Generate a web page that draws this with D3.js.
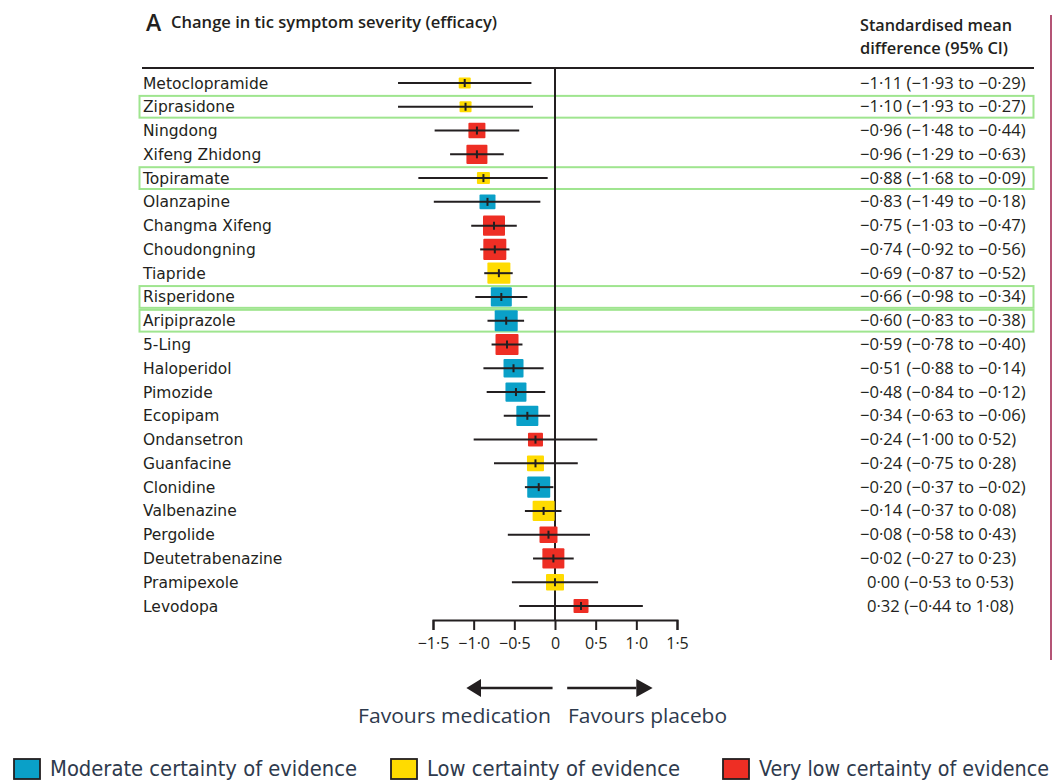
<!DOCTYPE html>
<html><head><meta charset="utf-8">
<script src="https://cdn.jsdelivr.net/npm/d3@7"></script>
<style>
body{margin:0;background:#fff;}
svg{display:block;}
</style></head>
<body>
<svg id="chart" width="1056" height="782"></svg>
<script>
// ---- data ----
const drugs = ["Metoclopramide","Ziprasidone","Ningdong","Xifeng Zhidong","Topiramate","Olanzapine","Changma Xifeng","Choudongning","Tiapride","Risperidone","Aripiprazole","5-Ling","Haloperidol","Pimozide","Ecopipam","Ondansetron","Guanfacine","Clonidine","Valbenazine","Pergolide","Deutetrabenazine","Pramipexole","Levodopa"];
const smd   = [-1.11,-1.10,-0.96,-0.96,-0.88,-0.83,-0.75,-0.74,-0.69,-0.66,-0.60,-0.59,-0.51,-0.48,-0.34,-0.24,-0.24,-0.20,-0.14,-0.08,-0.02,0.00,0.32];
const ciLow = [-1.93,-1.93,-1.48,-1.29,-1.68,-1.49,-1.03,-0.92,-0.87,-0.98,-0.83,-0.78,-0.88,-0.84,-0.63,-1.00,-0.75,-0.37,-0.37,-0.58,-0.27,-0.53,-0.44];
const ciHigh= [-0.29,-0.27,-0.44,-0.63,-0.09,-0.18,-0.47,-0.56,-0.52,-0.34,-0.38,-0.40,-0.14,-0.12,-0.06,0.52,0.28,-0.02,0.08,0.43,0.23,0.53,1.08];
const certainty = ["Low","Low","Very low","Very low","Low","Moderate","Very low","Very low","Low","Moderate","Moderate","Very low","Moderate","Moderate","Moderate","Very low","Low","Moderate","Low","Very low","Very low","Low","Very low"];
const markerSize = [12,12,17,21,13,16,22,23,23,21,23,23,20,21,22,15,17,23,22,18,22,18,15];
const highlighted = ["Ziprasidone","Topiramate","Risperidone","Aripiprazole"];
const ticks = [-1.5,-1.0,-0.5,0,0.5,1.0,1.5];
const certaintyLevels = ["Moderate","Low","Very low"];
const legendLabels = ["Moderate certainty of evidence","Low certainty of evidence","Very low certainty of evidence"];
const certaintyColors = ["#0aa0c8","#ffdb00","#ee2e24"];

// ---- helpers ----
const fmt = v => {
  const s = Math.abs(v).toFixed(2).replace(".", "\u00B7");
  return (v < 0 ? "\u2212" : "") + s;
};
const fmtTick = v => v === 0 ? "0" : fmt(v).replace(/(\u00B7\d)0$/, "$1");

const rows = drugs.map((d,i)=>({name:d, est:smd[i], lo:ciLow[i], hi:ciHigh[i], cert:certainty[i], size:markerSize[i]}));

const svg = d3.select("#chart");
const x = d3.scaleLinear().domain([-1.5,1.5]).range([433,677]);
const y = d3.scalePoint().domain(drugs).range([83,606]);
const color = d3.scaleOrdinal().domain(certaintyLevels).range(certaintyColors);

const textCol = "#231f20";
const labelFont = "'DejaVu Sans', 'Open Sans', sans-serif";
const numFont = "'Open Sans', sans-serif";

// title
svg.append("text").attr("x",146).attr("y",31).attr("font-family","'Open Sans', sans-serif")
  .attr("font-size",23).attr("font-weight",600).attr("fill",textCol).text("A");
svg.append("text").attr("x",171).attr("y",28).attr("font-family","'Open Sans', sans-serif")
  .attr("font-size",15.5).attr("font-weight",600).attr("fill",textCol)
  .attr("textLength",326).attr("lengthAdjust","spacingAndGlyphs")
  .text("Change in tic symptom severity (efficacy)");
// right header
svg.append("text").attr("x",860).attr("y",31).attr("font-family","'Open Sans', sans-serif")
  .attr("font-size",16).attr("font-weight",600).attr("fill",textCol)
  .attr("textLength",152).attr("lengthAdjust","spacingAndGlyphs").text("Standardised mean");
svg.append("text").attr("x",860).attr("y",54).attr("font-family","'Open Sans', sans-serif")
  .attr("font-size",16).attr("font-weight",600).attr("fill",textCol)
  .attr("textLength",148).attr("lengthAdjust","spacingAndGlyphs").text("difference (95% CI)");

// header rule
svg.append("line").attr("x1",142).attr("x2",1034).attr("y1",68).attr("y2",68)
  .attr("stroke","#231f20").attr("stroke-width",2);

// right maroon rule
svg.append("line").attr("x1",1051).attr("x2",1051).attr("y1",15).attr("y2",660)
  .attr("stroke","#9b1b48").attr("stroke-width",1.5);

// highlight boxes
const step = y.step();
svg.selectAll("rect.hl").data(highlighted).join("rect").attr("class","hl")
  .attr("x",139.5).attr("width",894)
  .attr("y",d=>y(d)-step/2+1).attr("height",step-2)
  .attr("fill","none").attr("stroke","#9fe58f").attr("stroke-width",2);

// zero line
svg.append("line").attr("x1",x(0)).attr("x2",x(0)).attr("y1",68).attr("y2",620)
  .attr("stroke","#231f20").attr("stroke-width",2);

// axis
const axis = d3.axisBottom(x).tickValues(ticks).tickSize(10).tickFormat(fmtTick);
const gAx = svg.append("g").attr("transform","translate(0,620)").call(axis);
gAx.select(".domain").attr("stroke","#231f20").attr("stroke-width",2);
gAx.selectAll(".tick line").attr("stroke","#231f20").attr("stroke-width",2);
gAx.selectAll(".tick text").attr("font-family",numFont).attr("font-size",16).attr("fill",textCol).attr("dy","1.0em");

// rows
const g = svg.append("g");
rows.forEach(r=>{
  const cy = y(r.name);
  g.append("text").attr("x",143).attr("y",cy+5.5).attr("font-family",labelFont)
    .attr("font-size",15.5).attr("fill",textCol).text(r.name);
  g.append("rect").attr("x",x(r.est)-r.size/2).attr("y",cy-r.size*0.46)
    .attr("width",r.size).attr("height",r.size*0.92)
    .attr("fill",color(r.cert)).attr("rx",1);
  g.append("line").attr("x1",x(r.lo)).attr("x2",x(r.hi)).attr("y1",cy).attr("y2",cy)
    .attr("stroke","#231f20").attr("stroke-width",2);
  g.append("line").attr("x1",x(r.est)).attr("x2",x(r.est)).attr("y1",cy-4).attr("y2",cy+4)
    .attr("stroke","#231f20").attr("stroke-width",2);
  g.append("text").attr("x",860 + (r.est < 0 ? 0 : 7)).attr("y",cy+5.5).attr("font-family",numFont)
    .attr("font-size",16.6).attr("fill",textCol)
    .text(`${fmt(r.est)} (${fmt(r.lo)} to ${fmt(r.hi)})`);
});

// arrows
const arrowCol = "#231f20";
const ay = 688;
svg.append("line").attr("x1",x(-0.03)).attr("x2",x(-0.95)).attr("y1",ay).attr("y2",ay).attr("stroke",arrowCol).attr("stroke-width",2.5);
svg.append("path").attr("d",`M${x(-1.09)},${ay} L${x(-0.91)},${ay-9} L${x(-0.91)},${ay+9} Z`).attr("fill",arrowCol);
svg.append("line").attr("x1",x(0.15)).attr("x2",x(1.0)).attr("y1",ay).attr("y2",ay).attr("stroke",arrowCol).attr("stroke-width",2.5);
svg.append("path").attr("d",`M${x(1.2)},${ay} L${x(1.0)},${ay-9} L${x(1.0)},${ay+9} Z`).attr("fill",arrowCol);

const blueText = "#2e3a4d";
svg.append("text").attr("x",551).attr("y",723).attr("text-anchor","end")
  .attr("font-family","'Open Sans', sans-serif").attr("font-size",19.5).attr("fill",blueText)
  .attr("textLength",193).attr("lengthAdjust","spacingAndGlyphs").text("Favours medication");
svg.append("text").attr("x",568).attr("y",723)
  .attr("font-family","'Open Sans', sans-serif").attr("font-size",19.5).attr("fill",blueText)
  .attr("textLength",159).attr("lengthAdjust","spacingAndGlyphs").text("Favours placebo");

// legend
const legX = [13,390,722];
const legW = [307,253,290];
certaintyLevels.forEach((c,i)=>{
  svg.append("rect").attr("x",legX[i]+1).attr("y",759).attr("width",26).attr("height",20)
    .attr("fill",color(c)).attr("stroke","#231f20").attr("stroke-width",1.8);
  svg.append("text").attr("x",legX[i]+37).attr("y",776)
    .attr("font-family","'Liberation Sans Narrow','DejaVu Sans Condensed', sans-serif")
    .attr("font-size",20.5).attr("fill",blueText)
    .attr("textLength",legW[i]).attr("lengthAdjust","spacingAndGlyphs").text(legendLabels[i]);
});
</script>
</body></html>
